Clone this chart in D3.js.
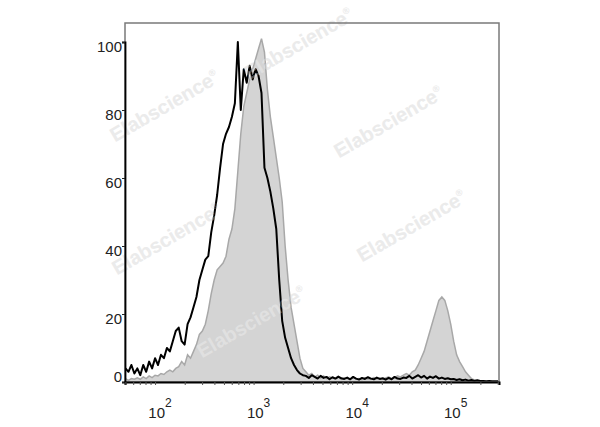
<!DOCTYPE html>
<html><head><meta charset="utf-8">
<script src="https://cdn.jsdelivr.net/npm/d3@7"></script>
<style>html,body{margin:0;padding:0;background:#fff;}svg{display:block;}</style>
</head><body>
<svg id="c" width="600" height="427"></svg>
<script>
// log10 channel positions (x axis) for the histograms
const channels = [1.70,1.73,1.76,1.79,1.82,1.85,1.88,1.91,1.94,1.97,
2.00,2.03,2.06,2.09,2.12,2.15,2.18,2.21,2.24,2.27,
2.30,2.33,2.36,2.39,2.42,2.45,2.48,2.51,2.54,2.57,
2.60,2.63,2.66,2.69,2.72,2.75,2.78,2.81,2.84,2.87,
2.90,2.93,2.96,2.99,3.02,3.05,3.08,3.11,3.14,3.17,
3.20,3.23,3.26,3.29,3.32,3.35,3.38,3.41,3.44,3.47,
3.50,3.53,3.56,3.59,3.62,3.65,3.68,3.71,3.74,3.77,
3.80,3.83,3.86,3.89,3.92,3.95,3.98,4.01,4.04,4.07,
4.10,4.13,4.16,4.19,4.22,4.25,4.28,4.31,4.34,4.37,
4.40,4.43,4.46,4.49,4.52,4.55,4.58,4.61,4.64,4.67,
4.70,4.73,4.76,4.79,4.82,4.85,4.88,4.91,4.94,4.97,
5.00,5.03,5.06,5.09,5.12,5.15,5.18,5.21,5.24,5.27,
5.30,5.33,5.36,5.39,5.42,5.45,5.48];

// Stained sample (gray filled), % of max
const stained = [1,0.5,1,0.8,1.2,0.8,1.5,1,1.8,1.3,
2,1.8,2.5,2.2,3,3.5,3,4,4.5,6,
5,8,7,9,11,14,15,17,21,26,
30,33,34,35,37,42,45,51,62,73,
81,85,89,92,95,98,101,97,86,78,
72,66,60,53,40,30,22,17,12,7,
4,3,2,2.5,1.5,2,1.2,1.8,1,1.5,
1.2,1,1.4,0.8,1.2,1,0.8,1.3,0.9,1,
0.7,1.2,0.8,1,1.3,0.9,1.1,0.8,1.2,1.5,
1,1.3,1.8,1.5,2,2.5,2,3,3.5,5,
7,9,12,15,18,21,24,25,24,21,
17,12,8,6,4.5,3,2,1,0.6,0.4,
0.3,0.2,0.1,0.1,0,0,0];

// Isotype control (black line), % of max
const control = [4,3,5,2.5,4,2,5,3,6,4,
7,5,8,7,10,9,12,15,16,12,
11,17,19,22,25,30,33,36,37,44,
49,55,63,70,73,75,78,82,100,80,
92,88,93,89,92,90,85,63,60,56,
51,45,30,18,13,10,7,5,3.5,2.5,
2,1.8,1.2,2,1.5,1,1.8,1.2,1.5,0.8,
1.4,1,1.6,1.1,0.9,1.3,0.8,1.5,1,0.7,
1.2,0.9,1.4,1,0.8,1.3,0.9,1.1,0.7,1.2,
0.8,1.5,1,0.9,1.3,1.2,1.8,1,1.5,2,
1.3,1.8,1,1.6,1.2,1.7,1,1.3,0.9,1.1,
0.8,0.9,0.6,0.8,0.5,0.7,0.4,0.6,0.3,0.5,
0.3,0.3,0.2,0.3,0.2,0.2,0.2];

const yTicks = [0,20,40,60,80,100];
const xDecades = [2,3,4,5];
const watermark = "Elabscience";
const watermarkSpots = [[168,112],[302,50],[392,128],[415,232],[170,245],[255,328]];

const svg = d3.select("#c");
const L = 125, R = 499, T = 23, B = 382;
const x = d3.scaleLog().domain([Math.pow(10,1.695), Math.pow(10,5.49)]).range([L, R]);
const y = d3.scaleLinear().domain([0, 100]).range([B, 42]);

const dS = channels.map((c,i)=>({v:Math.pow(10,c), n:stained[i]}));
const dC = channels.map((c,i)=>({v:Math.pow(10,c), n:control[i]}));

// watermark under data
const wm1 = svg.append("g");
watermarkSpots.forEach(([cx,cy])=>{
  const t = wm1.append("text").attr("transform",`translate(${cx},${cy}) rotate(-30)`)
    .attr("text-anchor","middle").attr("font-family","Liberation Sans, Arial, sans-serif")
    .attr("font-weight","bold").attr("font-size",20).attr("fill","#e4e4e4");
  t.append("tspan").text(watermark);
  t.append("tspan").attr("font-size",9).attr("dy",-9).text("®");
});

const plot = svg.append("g");
plot.append("clipPath").attr("id","clp").append("rect").attr("x",L).attr("y",T).attr("width",R-L).attr("height",B-T);

const area = d3.area().x(d=>x(d.v)).y0(B).y1(d=>y(d.n));
const line = d3.line().x(d=>x(d.v)).y(d=>y(d.n));

plot.append("path").datum(dS).attr("d",area).attr("fill","#d4d4d4").attr("clip-path","url(#clp)");
plot.append("path").datum(dS).attr("d",line).attr("fill","none").attr("stroke","#a8a8a8").attr("stroke-width",1.5).attr("clip-path","url(#clp)");
plot.append("path").datum(dC).attr("d",line).attr("fill","none").attr("stroke","#000").attr("stroke-width",2).attr("stroke-linejoin","round").attr("clip-path","url(#clp)");

// watermark lightening overlay
const wm2 = svg.append("g");
watermarkSpots.forEach(([cx,cy])=>{
  const t = wm2.append("text").attr("transform",`translate(${cx},${cy}) rotate(-30)`)
    .attr("text-anchor","middle").attr("font-family","Liberation Sans, Arial, sans-serif")
    .attr("font-weight","bold").attr("font-size",20).attr("fill","#ffffff").attr("fill-opacity",0.3);
  t.append("tspan").text(watermark);
  t.append("tspan").attr("font-size",9).attr("dy",-9).text("®");
});

// frame
svg.append("rect").attr("x",L).attr("y",T).attr("width",R-L).attr("height",B-T)
  .attr("fill","none").attr("stroke","#7a7a7a").attr("stroke-width",1.5);

// Y axis
const yAxis = d3.axisLeft(y).tickValues(yTicks).tickSize(3).tickFormat("");
const gy = svg.append("g").attr("transform",`translate(${L},0)`).call(yAxis);
gy.select(".domain").attr("stroke","#000").attr("stroke-width",1.8);
gy.selectAll(".tick line").attr("stroke","#222");
svg.append("g").selectAll("text").data(yTicks).join("text")
  .attr("x",L-3).attr("y",d=> d===0 ? y(d)-5 : y(d)+5)
  .attr("dy","0.35em").attr("text-anchor","end")
  .attr("font-family","Liberation Sans, Arial, sans-serif").attr("font-size",15).attr("fill","#222")
  .text(d=>d);

// X axis
const minor = [];
for (let e=1;e<=5;e++) for (let k=1;k<=9;k++){ const v=k*Math.pow(10,e); if (v>=x.domain()[0] && v<=x.domain()[1]) minor.push(v); }
const xAxis = d3.axisBottom(x).tickValues(minor).tickSize(3).tickFormat("");
const gx = svg.append("g").attr("transform",`translate(0,${B})`).call(xAxis);
gx.select(".domain").attr("stroke","#000").attr("stroke-width",2);
gx.selectAll(".tick line").attr("stroke","#555").attr("stroke-width",1);

const xl = svg.append("g").selectAll("text").data(xDecades).join("text")
  .attr("x",d=>x(Math.pow(10,d))+5).attr("y",418).attr("text-anchor","middle")
  .attr("font-family","Liberation Sans, Arial, sans-serif").attr("font-size",15).attr("fill","#222");
xl.append("tspan").text("10");
xl.append("tspan").attr("font-size",12).attr("dy",-11).text(d=>d);
</script>
</body></html>
